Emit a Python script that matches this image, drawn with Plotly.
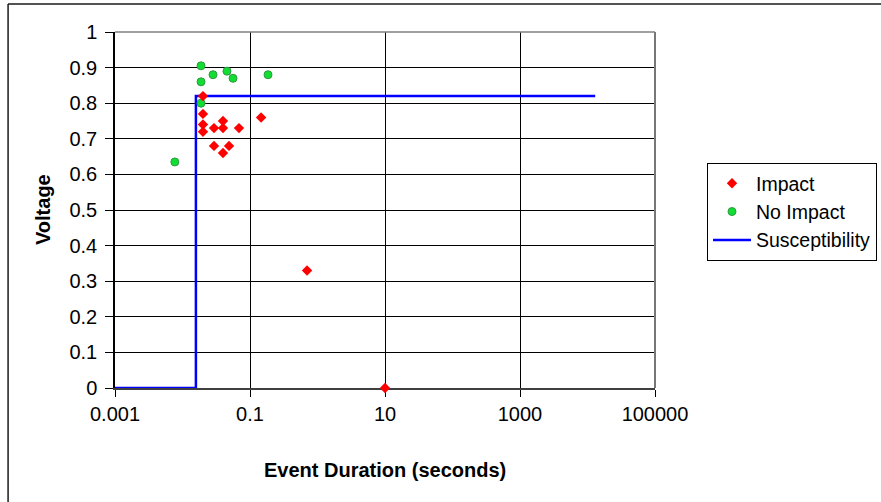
import plotly.graph_objects as go

# Data
impact_duration = [0.0201, 0.0201, 0.0201, 0.0201, 0.0293, 0.0398, 0.0398, 0.0687,
                   0.0293, 0.0489, 0.0398, 0.146, 0.70, 10]
impact_voltage = [0.82, 0.77, 0.74, 0.72, 0.73, 0.75, 0.73, 0.73,
                  0.68, 0.68, 0.66, 0.76, 0.33, 0.0]

noimpact_duration = [0.0077, 0.0188, 0.0188, 0.0188, 0.0283, 0.0456, 0.056, 0.185]
noimpact_voltage = [0.635, 0.905, 0.86, 0.80, 0.88, 0.89, 0.87, 0.88]

suscept_duration = [0.001, 0.0158, 0.0158, 13000]
suscept_voltage = [0.0, 0.0, 0.82, 0.82]

x_tickvals = [0.001, 0.1, 10, 1000, 100000]
x_ticktext = ["0.001", "0.1", "10", "1000", "100000"]
y_tickvals = [0, 0.1, 0.2, 0.3, 0.4, 0.5, 0.6, 0.7, 0.8, 0.9, 1]
y_ticktext = ["0", "0.1", "0.2", "0.3", "0.4", "0.5", "0.6", "0.7", "0.8", "0.9", "1"]

FONT = "Liberation Sans, Arial, sans-serif"
FS = 20

fig = go.Figure()
fig.add_trace(go.Scatter(
    x=suscept_duration, y=suscept_voltage, mode="lines", name="Susceptibility",
    line=dict(color="#0000FF", width=2.5), legendrank=3, cliponaxis=False))
fig.add_trace(go.Scatter(
    x=noimpact_duration, y=noimpact_voltage, mode="markers", name="No Impact",
    marker=dict(symbol="circle", size=8, color="#11DD33",
                line=dict(color="#2E9940", width=1)), legendrank=2, cliponaxis=False))
fig.add_trace(go.Scatter(
    x=impact_duration, y=impact_voltage, mode="markers", name="Impact",
    marker=dict(symbol="diamond", size=8, color="#FF0000",
                line=dict(width=0)), legendrank=1, cliponaxis=False))

fig.update_layout(
    width=881, height=502,
    margin=dict(l=115, r=226, t=32, b=114, autoexpand=False),
    paper_bgcolor="white", plot_bgcolor="white",
    font=dict(family=FONT, size=FS, color="black"),
    showlegend=True,
    legend=dict(x=1.0963, y=0.632, xanchor="left", yanchor="top",
                bordercolor="black", borderwidth=1, bgcolor="white",
                font=dict(family=FONT, size=19.5, color="black"),
                itemwidth=38, traceorder="normal"),
    xaxis=dict(type="log", range=[-3, 5], tickvals=x_tickvals, ticktext=x_ticktext,
               showgrid=True, gridcolor="black", gridwidth=1,
               showline=True, linecolor="#404040", linewidth=1.5,
               ticks="outside", ticklen=7, tickcolor="black", tickwidth=1,
               zeroline=False, layer="below traces",
               tickfont=dict(family=FONT, size=FS, color="black")),
    yaxis=dict(range=[0, 1], tickvals=y_tickvals, ticktext=y_ticktext,
               showgrid=True, gridcolor="black", gridwidth=1,
               showline=True, linecolor="black", linewidth=1.5,
               ticks="outside", ticklen=8, tickcolor="black", tickwidth=1,
               ticklabelstandoff=4,
               zeroline=False, layer="below traces",
               tickfont=dict(family=FONT, size=FS, color="black")),
    annotations=[
        dict(text="<b>Event Duration (seconds)</b>", xref="paper", yref="paper",
             x=0.5, y=-0.2303, xanchor="center", yanchor="middle", showarrow=False,
             font=dict(family=FONT, size=FS, color="black")),
        dict(text="<b>Voltage</b>", xref="paper", yref="paper",
             x=-0.1333, y=0.5, xanchor="center", yanchor="middle", showarrow=False,
             textangle=-90, font=dict(family=FONT, size=FS, color="black")),
    ],
    shapes=[
        # gray top and right borders of plot area
        dict(type="line", xref="paper", yref="paper", x0=0, x1=1, y0=1, y1=1,
             line=dict(color="#808080", width=1.5), layer="above"),
        dict(type="line", xref="paper", yref="paper", x0=1, x1=1, y0=0, y1=1,
             line=dict(color="#777777", width=2), layer="above"),
        # outer chart border (left and top edges visible)
        dict(type="line", xref="paper", yref="paper", x0=-0.198, x1=-0.198, y0=-1, y1=1.0787,
             line=dict(color="#1a1a1a", width=1.5), layer="below"),
        dict(type="line", xref="paper", yref="paper", x0=-0.198, x1=2, y0=1.0787, y1=1.0787,
             line=dict(color="#1a1a1a", width=1.5), layer="below"),
    ],
)

fig.write_html("out.html")
